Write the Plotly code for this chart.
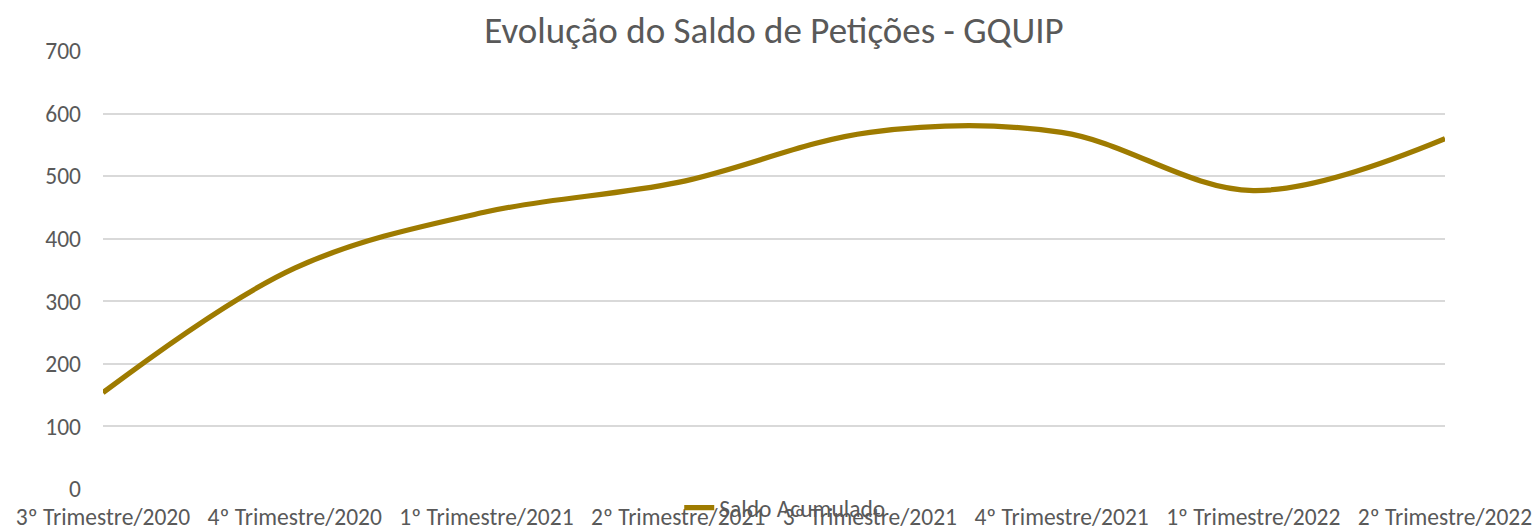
import plotly.graph_objects as go

categories = ["3º Trimestre/2020", "4º Trimestre/2020", "1º Trimestre/2021", "2º Trimestre/2021",
              "3º Trimestre/2021", "4º Trimestre/2021", "1º Trimestre/2022", "2º Trimestre/2022"]
saldo_acumulado = [154, 353, 443, 490, 570, 570, 477, 560]
y_ticks = [0, 100, 200, 300, 400, 500, 600, 700]

FONT = "Carlito, 'Liberation Sans Narrow', 'DejaVu Sans Condensed', sans-serif"
GREY = "#595959"

fig = go.Figure()
fig.add_trace(go.Scatter(
    x=categories, y=saldo_acumulado, mode="lines", name="Saldo Acumulado",
    line=dict(color="#9E7B00", width=5.25, shape="spline", smoothing=1.0),
))

fig.update_layout(
    width=1536, height=530,
    margin=dict(l=103, r=91, t=51, b=41, autoexpand=False),
    paper_bgcolor="white", plot_bgcolor="white",
    font=dict(family=FONT, color=GREY, size=23.5),
    title=dict(text="Evolução do Saldo de Petições - GQUIP", x=0.5, xref="paper",
               y=1 - 30 / 530, yref="container", yanchor="middle",
               font=dict(family=FONT, size=37, color=GREY)),
    showlegend=True,
    legend=dict(orientation="h", x=0.508, xanchor="center", y=-0.043, yanchor="middle",
                bgcolor="rgba(0,0,0,0)", font=dict(family=FONT, size=23.5, color=GREY)),
    xaxis=dict(type="category", range=[0, 7], showgrid=False, zeroline=False,
               showline=False, ticks="", ticklabelstandoff=11,
               tickfont=dict(family=FONT, size=23.5, color=GREY)),
    yaxis=dict(range=[0, 700], tickvals=y_ticks, showgrid=True, gridcolor="#D9D9D9",
               gridwidth=1.5, zeroline=False, showline=False, ticks="",
               ticklabelstandoff=21, tickfont=dict(family=FONT, size=23.5, color=GREY)),
)
fig.write_html("out.html", config={"displayModeBar": False},
               post_script="document.body.style.margin='0';document.body.style.overflow='hidden';")
